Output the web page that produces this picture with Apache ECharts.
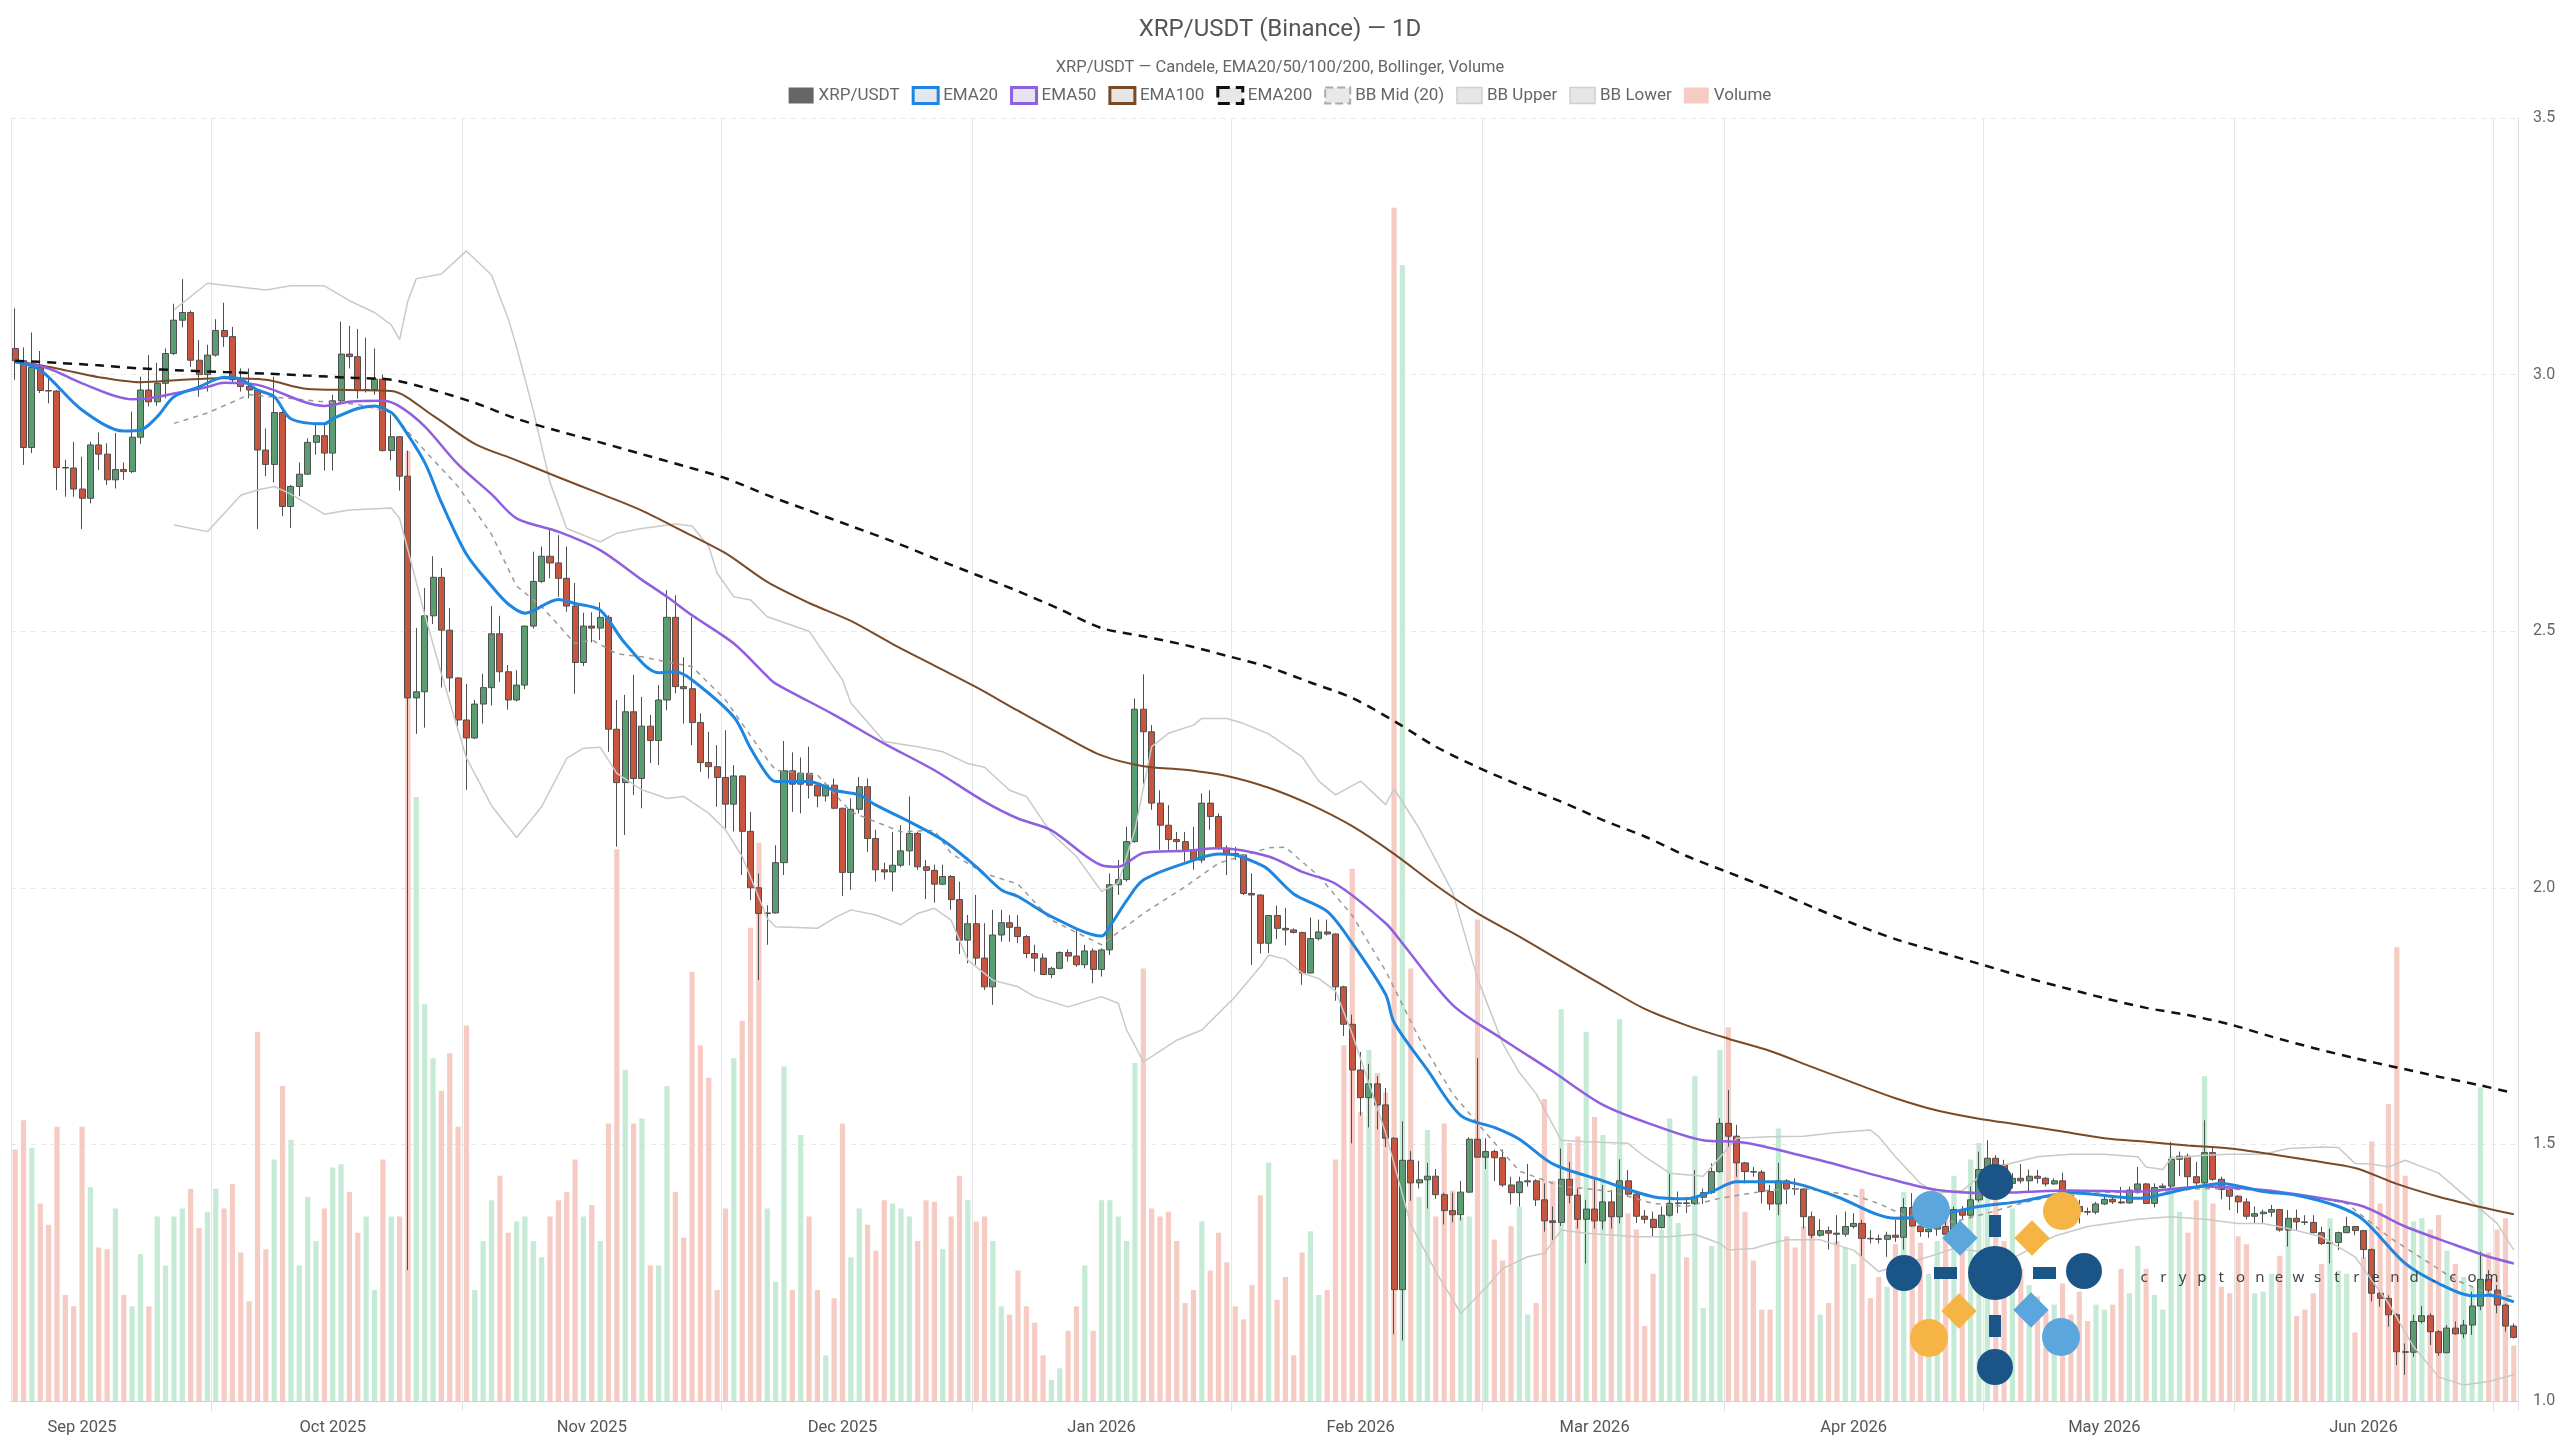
<!DOCTYPE html>
<html>
<head>
<meta charset="utf-8">
<title>XRP/USDT (Binance) — 1D</title>
<script src="https://cdn.jsdelivr.net/npm/echarts@6/dist/echarts.min.js"></script>
<style>
  html, body { margin: 0; padding: 0; background: #fff; }
  #chart { width: 2560px; height: 1440px; }
</style>
</head>
<body>
<div id="chart"></div>
<script>
// daily candles, 2025-08-24 .. 2026-06-19
const firstDay = [2025, 7, 24];
const dayCount = 300;

const open = [
  3.051, 3.027, 2.858, 3.014, 2.969, 2.968, 2.819, 2.818, 2.777, 2.759,
  2.863, 2.845, 2.795, 2.815, 2.811, 2.878, 2.970, 2.947, 2.983, 3.041,
  3.106, 3.121, 3.028, 3.000, 3.038, 3.086, 3.074, 2.990, 2.977, 2.970,
  2.853, 2.825, 2.926, 2.743, 2.782, 2.806, 2.868, 2.881, 2.847, 2.949,
  3.040, 3.035, 2.969, 2.971, 2.991, 2.852, 2.879, 2.802, 2.370, 2.382,
  2.530, 2.605, 2.502, 2.409, 2.327, 2.292, 2.358, 2.390, 2.495, 2.421,
  2.366, 2.395, 2.510, 2.597, 2.646, 2.633, 2.603, 2.549, 2.439, 2.510,
  2.506, 2.527, 2.309, 2.205, 2.343, 2.213, 2.315, 2.287, 2.366, 2.527,
  2.392, 2.388, 2.322, 2.244, 2.236, 2.215, 2.163, 2.218, 2.110, 2.000,
  1.950, 1.951, 2.049, 2.228, 2.202, 2.223, 2.200, 2.179, 2.200, 2.155,
  2.030, 2.153, 2.197, 2.096, 2.035, 2.031, 2.044, 2.072, 2.106, 2.041,
  2.034, 2.007, 2.022, 1.977, 1.898, 1.930, 1.863, 1.807, 1.908, 1.932,
  1.923, 1.905, 1.872, 1.863, 1.831, 1.843, 1.874, 1.867, 1.850, 1.877,
  1.841, 1.879, 2.006, 2.016, 2.090, 2.348, 2.304, 2.165, 2.122, 2.094,
  2.090, 2.074, 2.054, 2.165, 2.139, 2.077, 2.067, 2.064, 1.989, 1.986,
  1.892, 1.946, 1.921, 1.918, 1.913, 1.834, 1.901, 1.914, 1.910, 1.807,
  1.734, 1.645, 1.591, 1.618, 1.577, 1.512, 1.217, 1.469, 1.425, 1.431,
  1.438, 1.402, 1.371, 1.363, 1.407, 1.510, 1.475, 1.486, 1.474, 1.421,
  1.406, 1.427, 1.429, 1.392, 1.351, 1.348, 1.432, 1.401, 1.354, 1.374,
  1.351, 1.388, 1.359, 1.429, 1.403, 1.360, 1.354, 1.338, 1.362, 1.385,
  1.386, 1.385, 1.397, 1.406, 1.447, 1.541, 1.516, 1.464, 1.447, 1.446,
  1.408, 1.384, 1.429, 1.414, 1.413, 1.359, 1.323, 1.332, 1.327, 1.325,
  1.340, 1.346, 1.317, 1.316, 1.315, 1.323, 1.319, 1.377, 1.341, 1.330,
  1.335, 1.340, 1.325, 1.373, 1.362, 1.392, 1.451, 1.473, 1.460, 1.424,
  1.434, 1.429, 1.438, 1.434, 1.423, 1.429, 1.401, 1.379, 1.369, 1.368,
  1.384, 1.393, 1.388, 1.386, 1.411, 1.423, 1.385, 1.416, 1.419, 1.471,
  1.477, 1.437, 1.425, 1.484, 1.432, 1.412, 1.399, 1.388, 1.360, 1.365,
  1.368, 1.373, 1.333, 1.356, 1.349, 1.348, 1.328, 1.307, 1.309, 1.328,
  1.340, 1.332, 1.295, 1.210, 1.200, 1.168, 1.096, 1.095, 1.155, 1.166,
  1.135, 1.094, 1.142, 1.131, 1.148, 1.185, 1.237, 1.216, 1.187, 1.146
];
const close = [
  3.027, 2.858, 3.014, 2.969, 2.968, 2.819, 2.818, 2.777, 2.759, 2.863,
  2.845, 2.795, 2.815, 2.811, 2.878, 2.970, 2.947, 2.983, 3.041, 3.106,
  3.121, 3.028, 3.000, 3.038, 3.086, 3.074, 2.990, 2.977, 2.970, 2.853,
  2.825, 2.926, 2.743, 2.782, 2.806, 2.868, 2.881, 2.847, 2.949, 3.040,
  3.035, 2.969, 2.971, 2.991, 2.852, 2.879, 2.802, 2.370, 2.382, 2.530,
  2.605, 2.502, 2.409, 2.327, 2.292, 2.358, 2.390, 2.495, 2.421, 2.366,
  2.395, 2.510, 2.597, 2.646, 2.633, 2.603, 2.549, 2.439, 2.510, 2.506,
  2.527, 2.309, 2.205, 2.343, 2.213, 2.315, 2.287, 2.366, 2.527, 2.392,
  2.388, 2.322, 2.244, 2.236, 2.215, 2.163, 2.218, 2.110, 2.000, 1.950,
  1.951, 2.049, 2.228, 2.202, 2.223, 2.200, 2.179, 2.200, 2.155, 2.030,
  2.153, 2.197, 2.096, 2.035, 2.031, 2.044, 2.072, 2.106, 2.041, 2.034,
  2.007, 2.022, 1.977, 1.898, 1.930, 1.863, 1.807, 1.908, 1.932, 1.923,
  1.905, 1.872, 1.863, 1.831, 1.843, 1.874, 1.867, 1.850, 1.877, 1.841,
  1.879, 2.006, 2.016, 2.090, 2.348, 2.304, 2.165, 2.122, 2.094, 2.090,
  2.074, 2.054, 2.165, 2.139, 2.077, 2.067, 2.064, 1.989, 1.986, 1.892,
  1.946, 1.921, 1.918, 1.913, 1.834, 1.901, 1.914, 1.910, 1.807, 1.734,
  1.645, 1.591, 1.618, 1.577, 1.512, 1.217, 1.469, 1.425, 1.431, 1.438,
  1.402, 1.371, 1.363, 1.407, 1.510, 1.475, 1.486, 1.474, 1.421, 1.406,
  1.427, 1.429, 1.392, 1.351, 1.348, 1.432, 1.401, 1.354, 1.374, 1.351,
  1.388, 1.359, 1.429, 1.403, 1.360, 1.354, 1.338, 1.362, 1.385, 1.386,
  1.385, 1.397, 1.406, 1.447, 1.541, 1.516, 1.464, 1.447, 1.446, 1.408,
  1.384, 1.429, 1.414, 1.413, 1.359, 1.323, 1.332, 1.327, 1.325, 1.340,
  1.346, 1.317, 1.316, 1.315, 1.323, 1.319, 1.377, 1.341, 1.330, 1.335,
  1.340, 1.325, 1.373, 1.362, 1.392, 1.451, 1.473, 1.460, 1.424, 1.434,
  1.429, 1.438, 1.434, 1.423, 1.429, 1.401, 1.379, 1.369, 1.368, 1.384,
  1.393, 1.388, 1.386, 1.411, 1.423, 1.385, 1.416, 1.419, 1.471, 1.477,
  1.437, 1.425, 1.484, 1.432, 1.412, 1.399, 1.388, 1.360, 1.365, 1.368,
  1.373, 1.333, 1.356, 1.349, 1.348, 1.328, 1.307, 1.309, 1.328, 1.340,
  1.332, 1.295, 1.210, 1.200, 1.168, 1.096, 1.095, 1.155, 1.166, 1.135,
  1.094, 1.142, 1.131, 1.148, 1.185, 1.237, 1.216, 1.187, 1.146, 1.124
];
const high = [
  3.129, 3.053, 3.082, 3.046, 2.996, 2.970, 2.834, 2.869, 2.840, 2.869,
  2.887, 2.866, 2.886, 2.829, 2.928, 2.996, 3.038, 3.023, 3.051, 3.138,
  3.186, 3.125, 3.067, 3.058, 3.108, 3.140, 3.093, 3.012, 3.012, 2.971,
  2.895, 2.996, 2.930, 2.785, 2.829, 2.876, 2.907, 2.907, 2.961, 3.103,
  3.095, 3.089, 3.072, 3.051, 3.000, 2.922, 2.880, 2.852, 2.506, 2.584,
  2.646, 2.623, 2.545, 2.410, 2.397, 2.366, 2.417, 2.549, 2.530, 2.434,
  2.424, 2.511, 2.655, 2.665, 2.697, 2.687, 2.665, 2.594, 2.536, 2.537,
  2.556, 2.531, 2.366, 2.376, 2.415, 2.372, 2.337, 2.395, 2.580, 2.570,
  2.449, 2.528, 2.340, 2.304, 2.278, 2.307, 2.239, 2.219, 2.148, 2.028,
  1.966, 2.083, 2.286, 2.264, 2.254, 2.275, 2.203, 2.205, 2.213, 2.156,
  2.174, 2.216, 2.213, 2.113, 2.049, 2.109, 2.122, 2.178, 2.109, 2.054,
  2.045, 2.045, 2.025, 2.012, 1.947, 1.986, 1.931, 1.957, 1.957, 1.947,
  1.947, 1.908, 1.889, 1.872, 1.846, 1.876, 1.880, 1.918, 1.889, 1.882,
  1.882, 2.028, 2.054, 2.119, 2.369, 2.416, 2.317, 2.190, 2.161, 2.109,
  2.109, 2.119, 2.184, 2.190, 2.145, 2.083, 2.080, 2.065, 2.028, 1.987,
  1.946, 1.965, 1.961, 1.921, 1.914, 1.942, 1.938, 1.938, 1.911, 1.809,
  1.753, 1.680, 1.657, 1.633, 1.610, 1.514, 1.545, 1.487, 1.468, 1.464,
  1.452, 1.406, 1.406, 1.429, 1.514, 1.668, 1.512, 1.490, 1.490, 1.437,
  1.437, 1.462, 1.432, 1.424, 1.379, 1.492, 1.466, 1.414, 1.392, 1.431,
  1.421, 1.411, 1.471, 1.450, 1.408, 1.372, 1.369, 1.379, 1.444, 1.408,
  1.398, 1.450, 1.414, 1.463, 1.551, 1.606, 1.538, 1.466, 1.456, 1.450,
  1.421, 1.464, 1.432, 1.434, 1.414, 1.369, 1.354, 1.340, 1.362, 1.369,
  1.366, 1.353, 1.333, 1.324, 1.330, 1.353, 1.395, 1.405, 1.350, 1.345,
  1.352, 1.359, 1.379, 1.380, 1.418, 1.486, 1.508, 1.479, 1.470, 1.444,
  1.462, 1.451, 1.450, 1.436, 1.434, 1.445, 1.402, 1.392, 1.377, 1.388,
  1.398, 1.401, 1.417, 1.418, 1.456, 1.425, 1.424, 1.424, 1.505, 1.486,
  1.482, 1.466, 1.547, 1.495, 1.437, 1.414, 1.401, 1.395, 1.379, 1.373,
  1.382, 1.374, 1.372, 1.373, 1.362, 1.362, 1.340, 1.336, 1.330, 1.359,
  1.341, 1.333, 1.297, 1.213, 1.206, 1.171, 1.112, 1.168, 1.185, 1.171,
  1.138, 1.148, 1.155, 1.158, 1.213, 1.291, 1.255, 1.226, 1.190, 1.151
];
const low = [
  2.990, 2.824, 2.847, 2.964, 2.944, 2.775, 2.762, 2.762, 2.699, 2.749,
  2.814, 2.785, 2.778, 2.795, 2.808, 2.865, 2.938, 2.939, 2.954, 3.038,
  3.092, 3.015, 2.957, 2.967, 3.035, 3.054, 2.983, 2.967, 2.954, 2.699,
  2.802, 2.790, 2.724, 2.701, 2.763, 2.805, 2.844, 2.813, 2.813, 2.946,
  3.012, 2.953, 2.965, 2.961, 2.850, 2.833, 2.774, 1.255, 2.300, 2.312,
  2.514, 2.390, 2.382, 2.308, 2.191, 2.290, 2.320, 2.355, 2.401, 2.347,
  2.363, 2.387, 2.505, 2.594, 2.603, 2.567, 2.538, 2.378, 2.432, 2.478,
  2.483, 2.265, 2.080, 2.103, 2.181, 2.155, 2.243, 2.239, 2.346, 2.379,
  2.320, 2.278, 2.226, 2.213, 2.158, 2.116, 2.110, 2.025, 1.976, 1.820,
  1.889, 1.950, 2.025, 2.148, 2.145, 2.174, 2.157, 2.168, 2.153, 1.984,
  1.996, 2.145, 2.070, 2.012, 2.016, 1.993, 2.040, 2.044, 2.035, 1.978,
  1.971, 2.005, 1.957, 1.871, 1.853, 1.850, 1.801, 1.772, 1.895, 1.895,
  1.892, 1.863, 1.837, 1.830, 1.824, 1.841, 1.856, 1.846, 1.843, 1.814,
  1.827, 1.869, 1.986, 2.012, 2.088, 2.203, 2.152, 2.074, 2.074, 2.074,
  2.051, 2.035, 2.048, 2.113, 2.074, 2.025, 2.054, 1.986, 1.850, 1.872,
  1.873, 1.900, 1.888, 1.911, 1.811, 1.833, 1.897, 1.907, 1.780, 1.711,
  1.502, 1.556, 1.533, 1.529, 1.495, 1.130, 1.118, 1.390, 1.414, 1.375,
  1.394, 1.344, 1.348, 1.352, 1.406, 1.474, 1.452, 1.429, 1.417, 1.383,
  1.379, 1.418, 1.380, 1.330, 1.314, 1.341, 1.385, 1.336, 1.268, 1.336,
  1.334, 1.336, 1.346, 1.398, 1.347, 1.346, 1.321, 1.336, 1.359, 1.366,
  1.366, 1.382, 1.384, 1.403, 1.445, 1.495, 1.437, 1.424, 1.437, 1.385,
  1.372, 1.362, 1.384, 1.401, 1.336, 1.317, 1.320, 1.295, 1.304, 1.320,
  1.336, 1.281, 1.307, 1.307, 1.281, 1.310, 1.295, 1.340, 1.320, 1.318,
  1.322, 1.320, 1.324, 1.355, 1.356, 1.388, 1.448, 1.455, 1.418, 1.414,
  1.424, 1.408, 1.424, 1.418, 1.421, 1.398, 1.373, 1.346, 1.362, 1.364,
  1.382, 1.384, 1.384, 1.384, 1.409, 1.384, 1.377, 1.414, 1.414, 1.438,
  1.418, 1.421, 1.423, 1.429, 1.393, 1.372, 1.366, 1.354, 1.346, 1.346,
  1.359, 1.330, 1.301, 1.333, 1.343, 1.327, 1.304, 1.268, 1.294, 1.327,
  1.323, 1.278, 1.194, 1.184, 1.145, 1.070, 1.051, 1.086, 1.151, 1.109,
  1.088, 1.093, 1.129, 1.122, 1.129, 1.177, 1.210, 1.171, 1.135, 1.122
];
// volume, M XRP (relative)
const volume = [
  154, 172, 155, 121, 108, 168, 65, 58, 168, 131,
  94, 93, 118, 65, 58, 90, 58, 113, 83, 113,
  118, 130, 106, 116, 130, 118, 133, 91, 61, 226,
  93, 148, 193, 160, 83, 125, 98, 118, 143, 145,
  128, 103, 113, 68, 148, 113, 113, 582, 370, 243,
  210, 190, 213, 168, 230, 68, 98, 123, 138, 103,
  110, 113, 98, 88, 113, 123, 128, 148, 113, 120,
  98, 170, 338, 203, 170, 173, 83, 83, 193, 128,
  100, 263, 218, 198, 68, 118, 210, 233, 290, 342,
  118, 73, 205, 68, 163, 113, 68, 28, 63, 170,
  88, 118, 108, 92, 123, 121, 118, 113, 98, 123,
  122, 93, 113, 138, 123, 110, 113, 98, 58, 53,
  80, 58, 48, 28, 13, 20, 43, 58, 83, 43,
  123, 123, 113, 98, 207, 265, 118, 113, 116, 98,
  60, 68, 110, 80, 103, 85, 58, 50, 71, 126,
  146, 62, 76, 28, 91, 104, 65, 68, 148, 218,
  326, 177, 215, 201, 189, 731, 696, 265, 125, 166,
  113, 170, 129, 113, 113, 295, 153, 99, 86, 107,
  119, 53, 60, 185, 135, 240, 158, 162, 226, 174,
  163, 117, 234, 115, 105, 46, 78, 105, 173, 109,
  88, 199, 57, 95, 215, 229, 158, 116, 86, 56,
  56, 167, 101, 94, 107, 107, 53, 60, 98, 94,
  84, 130, 63, 76, 70, 96, 128, 115, 97, 78,
  98, 118, 138, 98, 148, 158, 148, 128, 98, 118,
  81, 71, 64, 55, 59, 72, 53, 67, 49, 59,
  56, 59, 81, 66, 95, 81, 65, 56, 150, 116,
  103, 123, 199, 121, 70, 66, 101, 96, 66, 67,
  78, 89, 107, 52, 56, 66, 84, 112, 80, 78,
  42, 88, 159, 121, 182, 278, 138, 110, 112, 105,
  114, 92, 84, 76, 70, 192, 91, 105, 112, 34
];
const volumeMax = 786;

// indicator lines as [day index, value]
const ema20 = [
  [0, 3.025], [3, 3.009], [8, 2.931], [13, 2.890], [15, 2.892], [17, 2.918], [19, 2.957], [22, 2.976],
  [25, 2.995], [27, 2.991], [29, 2.970], [31, 2.957], [33, 2.914], [37, 2.904], [38, 2.914], [41, 2.934],
  [43, 2.939], [45, 2.926], [46, 2.907], [49, 2.829], [51, 2.751], [54, 2.650], [57, 2.588], [59, 2.553],
  [61, 2.535], [65, 2.562], [67, 2.554], [70, 2.541], [73, 2.476], [77, 2.419], [79, 2.421], [81, 2.405],
  [86, 2.333], [88, 2.272], [90, 2.220], [91, 2.207], [95, 2.207], [98, 2.190], [101, 2.181], [103, 2.161],
  [107, 2.129], [111, 2.093], [115, 2.041], [118, 1.996], [120, 1.983], [124, 1.944], [130, 1.906], [131, 1.925],
  [133, 1.975], [135, 2.015], [140, 2.048], [144, 2.066], [146, 2.064], [149, 2.045], [150, 2.035], [153, 1.988],
  [157, 1.954], [160, 1.892], [164, 1.792], [165, 1.738], [169, 1.645], [173, 1.556], [177, 1.533], [180, 1.510],
  [184, 1.462], [190, 1.429], [196, 1.398], [200, 1.394], [203, 1.408], [206, 1.427], [210, 1.427], [213, 1.424],
  [218, 1.398], [225, 1.356], [230, 1.362], [235, 1.379], [240, 1.389], [246, 1.406], [254, 1.395], [260, 1.414],
  [264, 1.424], [269, 1.408], [273, 1.401], [278, 1.379], [281, 1.353], [286, 1.268], [290, 1.229], [294, 1.205],
  [296, 1.206], [299, 1.193]
];
const ema50 = [
  [0, 3.025], [4, 3.012], [8, 2.983], [14, 2.952], [16, 2.954], [19, 2.963], [23, 2.976], [25, 2.984],
  [29, 2.980], [37, 2.939], [40, 2.947], [44, 2.949], [46, 2.938], [49, 2.899], [53, 2.825], [57, 2.767],
  [60, 2.720], [65, 2.694], [70, 2.658], [75, 2.600], [78, 2.567], [81, 2.531], [86, 2.476], [90, 2.412],
  [91, 2.398], [98, 2.337], [104, 2.281], [110, 2.229], [116, 2.168], [120, 2.135], [124, 2.112], [130, 2.044],
  [132, 2.041], [135, 2.068], [140, 2.072], [144, 2.077], [150, 2.061], [154, 2.031], [158, 2.008], [164, 1.931],
  [166, 1.892], [172, 1.772], [178, 1.705], [184, 1.642], [190, 1.577], [196, 1.538], [202, 1.508], [206, 1.505],
  [209, 1.497], [216, 1.469], [224, 1.434], [230, 1.411], [236, 1.405], [240, 1.407], [246, 1.410], [254, 1.408],
  [262, 1.418], [269, 1.411], [276, 1.395], [281, 1.379], [286, 1.340], [292, 1.304], [296, 1.281], [299, 1.268]
];
const ema100 = [
  [0, 3.027], [5, 3.012], [10, 2.995], [15, 2.985], [20, 2.990], [25, 2.993], [30, 2.990], [35, 2.972],
  [40, 2.970], [45, 2.968], [50, 2.920], [55, 2.865], [60, 2.833], [65, 2.800], [70, 2.768], [75, 2.735],
  [80, 2.694], [85, 2.652], [90, 2.596], [95, 2.555], [100, 2.520], [105, 2.475], [110, 2.433], [115, 2.391],
  [120, 2.345], [125, 2.300], [130, 2.258], [135, 2.237], [140, 2.230], [145, 2.218], [150, 2.195], [155, 2.162],
  [160, 2.120], [165, 2.066], [170, 2.005], [175, 1.950], [180, 1.905], [185, 1.857], [190, 1.810], [195, 1.764],
  [200, 1.732], [205, 1.706], [210, 1.682], [215, 1.651], [220, 1.620], [225, 1.590], [230, 1.566], [235, 1.550],
  [240, 1.538], [245, 1.525], [250, 1.512], [255, 1.505], [260, 1.498], [265, 1.492], [270, 1.481], [275, 1.468],
  [280, 1.454], [285, 1.423], [290, 1.398], [295, 1.378], [299, 1.364]
];
const ema200 = [
  [0, 3.027], [5, 3.023], [10, 3.018], [15, 3.012], [20, 3.008], [25, 3.005], [30, 3.002], [35, 2.998],
  [40, 2.994], [45, 2.990], [50, 2.970], [55, 2.945], [60, 2.914], [65, 2.890], [70, 2.868], [75, 2.845],
  [80, 2.822], [85, 2.798], [90, 2.765], [95, 2.735], [100, 2.705], [105, 2.675], [110, 2.642], [115, 2.610],
  [120, 2.578], [125, 2.543], [130, 2.506], [135, 2.490], [140, 2.473], [145, 2.452], [150, 2.430], [155, 2.400],
  [160, 2.370], [165, 2.325], [170, 2.275], [175, 2.235], [180, 2.200], [185, 2.168], [190, 2.132], [195, 2.100],
  [200, 2.062], [205, 2.030], [210, 1.998], [215, 1.963], [220, 1.930], [225, 1.900], [230, 1.876], [235, 1.852],
  [240, 1.828], [245, 1.806], [250, 1.785], [255, 1.766], [260, 1.752], [265, 1.734], [270, 1.710], [275, 1.688],
  [280, 1.668], [285, 1.650], [290, 1.632], [295, 1.615], [299, 1.600]
];
const bbMid = [
  [19, 2.905], [23, 2.925], [28, 2.961], [37, 2.947], [41, 2.942], [45, 2.926], [46, 2.907], [49, 2.852],
  [53, 2.782], [57, 2.689], [60, 2.588], [63, 2.548], [67, 2.476], [69, 2.483], [72, 2.456], [75, 2.450],
  [79, 2.437], [81, 2.431], [85, 2.366], [90, 2.250], [91, 2.229], [96, 2.220], [100, 2.148], [106, 2.109],
  [110, 2.112], [112, 2.067], [116, 2.028], [120, 2.007], [124, 1.937], [130, 1.889], [135, 1.950], [140, 2.002],
  [144, 2.048], [150, 2.078], [152, 2.079], [156, 2.023], [160, 1.946], [164, 1.838], [168, 1.707], [172, 1.599],
  [176, 1.522], [180, 1.448], [185, 1.418], [188, 1.414], [191, 1.408], [196, 1.385], [200, 1.379], [204, 1.395],
  [210, 1.411], [214, 1.414], [220, 1.401], [223, 1.385], [226, 1.362], [232, 1.349], [236, 1.366], [240, 1.385],
  [246, 1.408], [254, 1.406], [262, 1.414], [269, 1.411], [276, 1.395], [279, 1.385], [284, 1.320], [288, 1.278],
  [292, 1.236], [296, 1.210], [299, 1.203]
];
const bbUpper = [
  [19, 3.126], [23, 3.178], [30, 3.165], [33, 3.173], [37, 3.173], [40, 3.144], [43, 3.121], [45, 3.097],
  [46, 3.068], [47, 3.144], [48, 3.187], [51, 3.196], [54, 3.241], [57, 3.194], [59, 3.109], [60, 3.054],
  [62, 2.930], [64, 2.790], [66, 2.700], [70, 2.674], [72, 2.691], [75, 2.700], [79, 2.709], [81, 2.705],
  [83, 2.665], [84, 2.613], [86, 2.567], [88, 2.561], [90, 2.528], [95, 2.500], [99, 2.405], [100, 2.360],
  [104, 2.285], [108, 2.275], [111, 2.265], [114, 2.242], [116, 2.235], [119, 2.190], [121, 2.178], [124, 2.106],
  [127, 2.061], [130, 1.993], [132, 2.009], [134, 2.113], [136, 2.275], [138, 2.301], [141, 2.317], [142, 2.330],
  [145, 2.330], [147, 2.320], [150, 2.300], [154, 2.255], [156, 2.208], [158, 2.181], [161, 2.208], [164, 2.162],
  [165, 2.193], [168, 2.116], [172, 1.992], [175, 1.823], [178, 1.697], [180, 1.640], [182, 1.599], [185, 1.508],
  [188, 1.505], [193, 1.502], [195, 1.476], [198, 1.444], [202, 1.438], [206, 1.512], [210, 1.515], [214, 1.516],
  [218, 1.523], [222, 1.528], [223, 1.515], [225, 1.476], [228, 1.424], [230, 1.405], [233, 1.410], [236, 1.450],
  [238, 1.460], [242, 1.476], [246, 1.481], [250, 1.481], [254, 1.476], [255, 1.456], [257, 1.451], [258, 1.473],
  [262, 1.479], [265, 1.481], [269, 1.481], [272, 1.492], [276, 1.495], [278, 1.494], [280, 1.463], [282, 1.462],
  [284, 1.456], [286, 1.469], [290, 1.444], [294, 1.388], [297, 1.346], [299, 1.294]
];
const bbLower = [
  [19, 2.707], [23, 2.694], [27, 2.765], [29, 2.775], [31, 2.782], [33, 2.767], [37, 2.728], [40, 2.736],
  [45, 2.740], [46, 2.720], [49, 2.533], [51, 2.417], [54, 2.253], [57, 2.160], [60, 2.098], [63, 2.158],
  [66, 2.252], [68, 2.272], [70, 2.274], [72, 2.223], [75, 2.191], [78, 2.174], [80, 2.178], [83, 2.145],
  [85, 2.113], [87, 2.061], [90, 1.940], [91, 1.924], [96, 1.921], [98, 1.941], [100, 1.957], [103, 1.947],
  [106, 1.928], [108, 1.950], [110, 1.960], [112, 1.937], [114, 1.859], [117, 1.820], [120, 1.807], [122, 1.788],
  [126, 1.768], [130, 1.788], [132, 1.775], [133, 1.723], [135, 1.661], [136, 1.671], [139, 1.703], [142, 1.723],
  [146, 1.788], [149, 1.846], [150, 1.869], [152, 1.861], [154, 1.834], [156, 1.823], [158, 1.799], [160, 1.715],
  [164, 1.522], [167, 1.344], [170, 1.252], [173, 1.171], [176, 1.221], [178, 1.258], [181, 1.281], [183, 1.288],
  [185, 1.333], [188, 1.327], [194, 1.320], [198, 1.320], [201, 1.325], [204, 1.307], [205, 1.294], [208, 1.297],
  [210, 1.307], [212, 1.314], [216, 1.314], [220, 1.294], [223, 1.252], [226, 1.268], [229, 1.281], [232, 1.297],
  [236, 1.290], [239, 1.278], [244, 1.321], [248, 1.340], [254, 1.354], [258, 1.359], [262, 1.354], [266, 1.346],
  [269, 1.346], [272, 1.336], [276, 1.320], [280, 1.281], [284, 1.190], [287, 1.106], [290, 1.047], [293, 1.031],
  [296, 1.038], [299, 1.051]
];

// x-axis gridlines sit mid-month
const gridDates = [
  '2025-09-17', '2025-10-17', '2025-11-17', '2025-12-17', '2026-01-17',
  '2026-02-16', '2026-03-17', '2026-04-17', '2026-05-17', '2026-06-17'
];
const monthNames = ['Jan', 'Feb', 'Mar', 'Apr', 'May', 'Jun', 'Jul', 'Aug', 'Sep', 'Oct', 'Nov', 'Dec'];

const dates = [];
for (let i = 0; i < dayCount; i++) {
  const d = new Date(Date.UTC(firstDay[0], firstDay[1], firstDay[2] + i));
  dates.push(d.toISOString().slice(0, 10));
}

const upColor = '#5c9c72';
const downColor = '#c8553f';

const candleData = dates.map((d, i) => [open[i], close[i], low[i], high[i]]);
const volumeData = volume.map((v, i) => ({
  value: v,
  itemStyle: { color: close[i] >= open[i] ? '#c5ead5' : '#f5cbc3' }
}));

function lineSeries(name, points, color, width, type, smooth) {
  return {
    name: name,
    type: 'line',
    data: points,
    showSymbol: false,
    symbol: 'none',
    smooth: smooth,
    lineStyle: { color: color, width: width, type: type },
    itemStyle: { color: color },
    emphasis: { disabled: true },
    z: 3
  };
}

// watermark logo (cryptonewstrend)
const logoX = 1995, logoY = 1273;
const darkBlue = '#1b5587', lightBlue = '#5ba6dc', orange = '#f6b445';
const logo = [
  { type: 'circle', shape: { cx: logoX, cy: logoY, r: 27 }, style: { fill: darkBlue } },
  { type: 'circle', shape: { cx: logoX, cy: logoY - 91, r: 18 }, style: { fill: darkBlue } },
  { type: 'circle', shape: { cx: logoX - 91, cy: logoY, r: 18 }, style: { fill: darkBlue } },
  { type: 'circle', shape: { cx: logoX + 89, cy: logoY - 2, r: 18 }, style: { fill: darkBlue } },
  { type: 'circle', shape: { cx: logoX, cy: logoY + 94, r: 18 }, style: { fill: darkBlue } },
  { type: 'rect', shape: { x: logoX - 6, y: logoY - 58, width: 12, height: 22 }, style: { fill: darkBlue } },
  { type: 'rect', shape: { x: logoX - 6, y: logoY + 42, width: 12, height: 22 }, style: { fill: darkBlue } },
  { type: 'rect', shape: { x: logoX - 61, y: logoY - 6, width: 23, height: 12 }, style: { fill: darkBlue } },
  { type: 'rect', shape: { x: logoX + 38, y: logoY - 6, width: 23, height: 12 }, style: { fill: darkBlue } },
  { type: 'circle', shape: { cx: logoX - 64, cy: logoY - 63, r: 19 }, style: { fill: lightBlue } },
  { type: 'circle', shape: { cx: logoX + 66, cy: logoY + 64, r: 19 }, style: { fill: lightBlue } },
  { type: 'circle', shape: { cx: logoX + 67, cy: logoY - 62, r: 19 }, style: { fill: orange } },
  { type: 'circle', shape: { cx: logoX - 66, cy: logoY + 65, r: 19 }, style: { fill: orange } }
];
[[-35, -35, lightBlue], [36, 37, lightBlue], [37, -35, orange], [-36, 38, orange]].forEach(p => {
  logo.push({
    type: 'rect', x: logoX + p[0], y: logoY + p[1], rotation: Math.PI / 4,
    shape: { x: -12.5, y: -12.5, width: 25, height: 25 }, style: { fill: p[2] }
  });
});
'cryptonewstrend.com'.split('').forEach((ch, k) => {
  logo.push({
    type: 'text', x: 2144 + k * 19.3, y: 1278,
    style: { text: ch, fill: '#444', font: '15px "Noto Sans", sans-serif', align: 'center', verticalAlign: 'middle' }
  });
});
logo.forEach(el => { el.z = 100; el.silent = true; });

const chart = echarts.init(document.getElementById('chart'));

const fontFamily = 'Roboto, "Noto Sans", sans-serif';

const option = {
  animation: false,
  backgroundColor: '#fff',
  textStyle: { fontFamily: fontFamily },
  title: [
    {
      text: 'XRP/USDT (Binance) — 1D',
      left: 'center', top: 13,
      textStyle: { fontSize: 24, fontWeight: 'normal', color: '#555', fontFamily: fontFamily }
    },
    {
      text: 'XRP/USDT — Candele, EMA20/50/100/200, Bollinger, Volume',
      left: 'center', top: 54,
      textStyle: { fontSize: 16.5, fontWeight: 'normal', color: '#666', fontFamily: fontFamily }
    }
  ],
  legend: {
    top: 81,
    left: 'center',
    itemWidth: 25,
    itemHeight: 16,
    itemGap: 12,
    textStyle: { fontSize: 17, color: '#666' },
    data: [
      { name: 'XRP/USDT', icon: 'rect', itemStyle: { color: '#666', borderWidth: 0 } },
      { name: 'EMA20', icon: 'rect', itemStyle: { color: '#e3e8ee', borderColor: '#1f86e0', borderWidth: 3 } },
      { name: 'EMA50', icon: 'rect', itemStyle: { color: '#e6e4f0', borderColor: '#8f5fe0', borderWidth: 3 } },
      { name: 'EMA100', icon: 'rect', itemStyle: { color: '#e8e6e4', borderColor: '#7a4a26', borderWidth: 3 } },
      { name: 'EMA200', icon: 'rect', itemStyle: { color: '#e8e8e8', borderColor: '#111', borderWidth: 3, borderType: 'dashed' } },
      { name: 'BB Mid (20)', icon: 'rect', itemStyle: { color: '#e8e8e8', borderColor: '#aaa', borderWidth: 2, borderType: 'dashed' } },
      { name: 'BB Upper', icon: 'rect', itemStyle: { color: '#e6e6e6', borderColor: '#cfcfcf', borderWidth: 1.5 } },
      { name: 'BB Lower', icon: 'rect', itemStyle: { color: '#e6e6e6', borderColor: '#cfcfcf', borderWidth: 1.5 } },
      { name: 'Volume', icon: 'rect', itemStyle: { color: '#f5cbc3', borderWidth: 0 } }
    ]
  },
  grid: { left: 11, right: 42, top: 118, bottom: 39, containLabel: false },
  xAxis: {
    type: 'category',
    data: dates,
    boundaryGap: true,
    axisLine: { lineStyle: { color: '#cfcfcf' } },
    axisTick: {
      show: true,
      length: 10,
      interval: (idx, val) => gridDates.includes(val),
      lineStyle: { color: '#e2e2e2' }
    },
    axisLabel: {
      interval: (idx, val) => val.slice(8) === '01',
      formatter: val => monthNames[+val.slice(5, 7) - 1] + ' ' + val.slice(0, 4),
      color: '#555',
      fontSize: 16.5,
      margin: 18
    },
    splitLine: {
      show: true,
      interval: (idx, val) => gridDates.includes(val),
      lineStyle: { color: '#e6e6e6', width: 1 }
    }
  },
  yAxis: [
    {
      type: 'value',
      position: 'right',
      min: 1,
      max: 3.5,
      interval: 0.5,
      axisLine: { show: true, lineStyle: { color: '#dcdcdc' } },
      axisTick: { show: false },
      axisLabel: { formatter: v => v.toFixed(1), color: '#666', fontSize: 16, margin: 15 },
      splitLine: { show: true, lineStyle: { color: '#e8e8e8', type: [5, 5] } }
    },
    {
      type: 'value',
      position: 'left',
      min: 0,
      max: volumeMax,
      axisLine: { show: true, lineStyle: { color: '#e6e6e6' } },
      axisTick: { show: false },
      axisLabel: { show: false },
      splitLine: { show: false }
    }
  ],
  series: [
    {
      name: 'Volume',
      type: 'bar',
      yAxisIndex: 1,
      data: volumeData,
      barWidth: '62%',
      itemStyle: { color: '#f5cbc3' },
      emphasis: { disabled: true },
      z: 1
    },
    {
      name: 'XRP/USDT',
      type: 'candlestick',
      data: candleData,
      barWidth: '78%',
      itemStyle: {
        color: upColor,
        color0: downColor,
        borderColor: '#4f4f4f',
        borderColor0: '#4f4f4f',
        borderWidth: 1
      },
      emphasis: { disabled: true },
      z: 2
    },
    lineSeries('BB Upper', bbUpper, '#c9c9c9', 1.5, 'solid', false),
    lineSeries('BB Lower', bbLower, '#c9c9c9', 1.5, 'solid', false),
    lineSeries('BB Mid (20)', bbMid, '#9a9a9a', 1.5, [5, 5], false),
    lineSeries('EMA100', ema100, '#7a4a26', 2, 'solid', 0.3),
    lineSeries('EMA50', ema50, '#8f5fe0', 2.5, 'solid', 0.3),
    lineSeries('EMA20', ema20, '#1f86e0', 3, 'solid', 0.3),
    lineSeries('EMA200', ema200, '#111111', 2.5, [9, 7], 0.3)
  ],
  graphic: logo
};

chart.setOption(option);
</script>
</body>
</html>
